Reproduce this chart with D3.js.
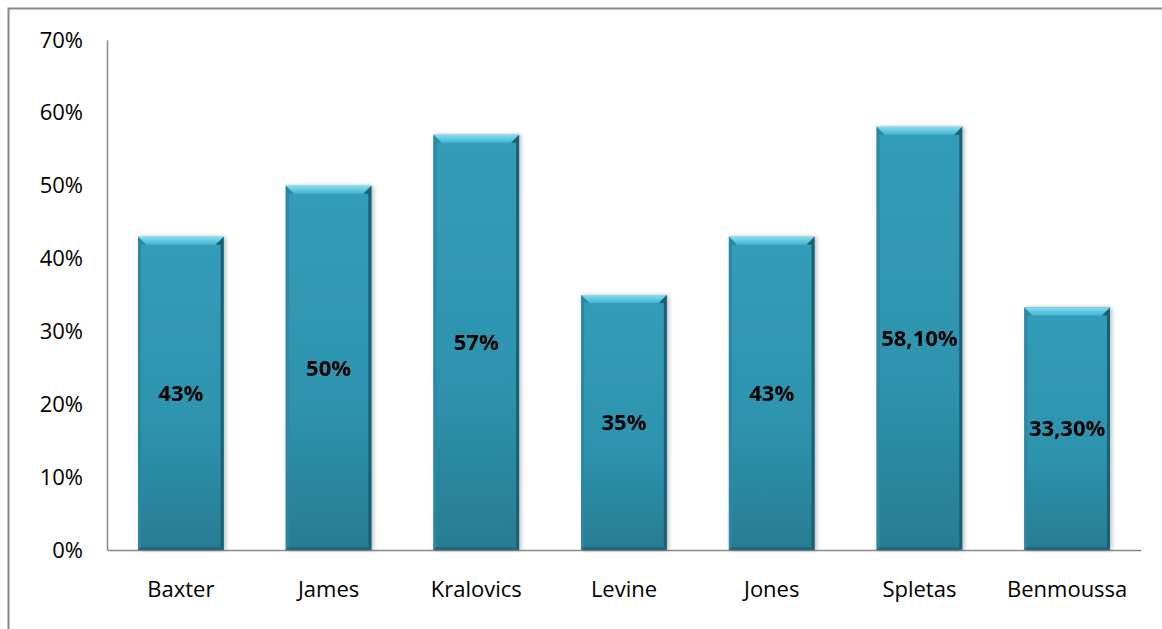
<!DOCTYPE html>
<html><head><meta charset="utf-8">
<script src="https://cdn.jsdelivr.net/npm/d3@7/dist/d3.min.js"></script>
<style>body{margin:0;background:#fff}svg{display:block}</style>
</head><body>
<script>
const categories = ["Baxter","James","Kralovics","Levine","Jones","Spletas","Benmoussa"];
const values = [0.43,0.50,0.57,0.35,0.43,0.581,0.333];
const labels = ["43%","50%","57%","35%","43%","58,10%","33,30%"];
const yTicks = [0,0.1,0.2,0.3,0.4,0.5,0.6,0.7];

const W=1162,H=629;
const svg=d3.select("body").append("svg").attr("width",W).attr("height",H);
const font="'Open Sans', sans-serif";
const defs=svg.append("defs");
const g1=defs.append("linearGradient").attr("id","bar").attr("x1",0).attr("y1",0).attr("x2",0).attr("y2",1);
g1.append("stop").attr("offset","0").attr("stop-color","#329db9");
g1.append("stop").attr("offset","0.6").attr("stop-color","#2e93ae");
g1.append("stop").attr("offset","1").attr("stop-color","#287c92");
const g3=defs.append("linearGradient").attr("id","top").attr("x1",0).attr("y1",0).attr("x2",0).attr("y2",1);
g3.append("stop").attr("offset","0").attr("stop-color","#84def2");
g3.append("stop").attr("offset","1").attr("stop-color","#45b4cf");
const f=defs.append("filter").attr("id","sh").attr("x","-20%").attr("y","-10%").attr("width","140%").attr("height","120%");
f.append("feGaussianBlur").attr("in","SourceAlpha").attr("stdDeviation",2);
f.append("feOffset").attr("dx",2).attr("dy",0).attr("result","b");
f.append("feComponentTransfer").append("feFuncA").attr("type","linear").attr("slope",0.25);
const fm=f.append("feMerge");fm.append("feMergeNode");fm.append("feMergeNode").attr("in","SourceGraphic");

// outer border
svg.append("path").attr("d",`M8.5,${H} V8.5 H${W}`).attr("fill","none").attr("stroke","#888").attr("stroke-width",2);

const x=d3.scaleBand().domain(categories).range([107,1141]).paddingInner(0.42).paddingOuter(0.21);
const y=d3.scaleLinear().domain([0,0.7]).range([550,40]);

const yAxis=svg.append("g").attr("transform","translate(107,0)")
 .call(d3.axisLeft(y).tickValues(yTicks).tickFormat(d3.format(".0%")).tickSize(0).tickPadding(24));
yAxis.select(".domain").attr("stroke","#888").attr("stroke-width",1.5);
yAxis.selectAll("text").attr("font-family",font).attr("font-size",22).attr("fill","#000");

const xAxis=svg.append("g").attr("transform","translate(0,550)")
 .call(d3.axisBottom(x).tickSize(0).tickPadding(31));
xAxis.select(".domain").attr("stroke","#888").attr("stroke-width",1.5);
xAxis.selectAll("text").attr("font-family",font).attr("font-size",22).attr("fill","#000");

const bars=svg.append("g").selectAll("g").data(categories).join("g").attr("filter","url(#sh)");
bars.each(function(c,i){
  const gg=d3.select(this);
  const x0=x(c),bw=x.bandwidth(),y0=y(values[i]),y1=y(0),b=8;
  gg.append("rect").attr("x",x0).attr("y",y0).attr("width",bw).attr("height",y1-y0).attr("fill","url(#bar)");
  // top bevel
  gg.append("path").attr("d",`M${x0},${y0}H${x0+bw}L${x0+bw-b},${y0+b}H${x0+b}Z`).attr("fill","url(#top)");
  // right bevel
  gg.append("path").attr("d",`M${x0+bw},${y0}V${y1}L${x0+bw-3},${y1-3}V${y0+b}L${x0+bw-b},${y0+b}Z`).attr("fill","#1b5f73");
  // left bevel
  gg.append("path").attr("d",`M${x0},${y0}V${y1}L${x0+3},${y1-3}V${y0+b}L${x0+b},${y0+b}Z`).attr("fill","#2a88a3");
  // bottom bevel
  gg.append("path").attr("d",`M${x0},${y1}H${x0+bw}L${x0+bw-3},${y1-3}H${x0+3}Z`).attr("fill","#21697d");
  gg.append("text").attr("x",x0+bw/2).attr("y",(y0+y1)/2).attr("dy","0.35em").attr("text-anchor","middle")
    .attr("font-family",font).attr("font-weight","bold").attr("font-size",22).attr("fill","#000").text(labels[i]);
});
</script>
</body></html>
